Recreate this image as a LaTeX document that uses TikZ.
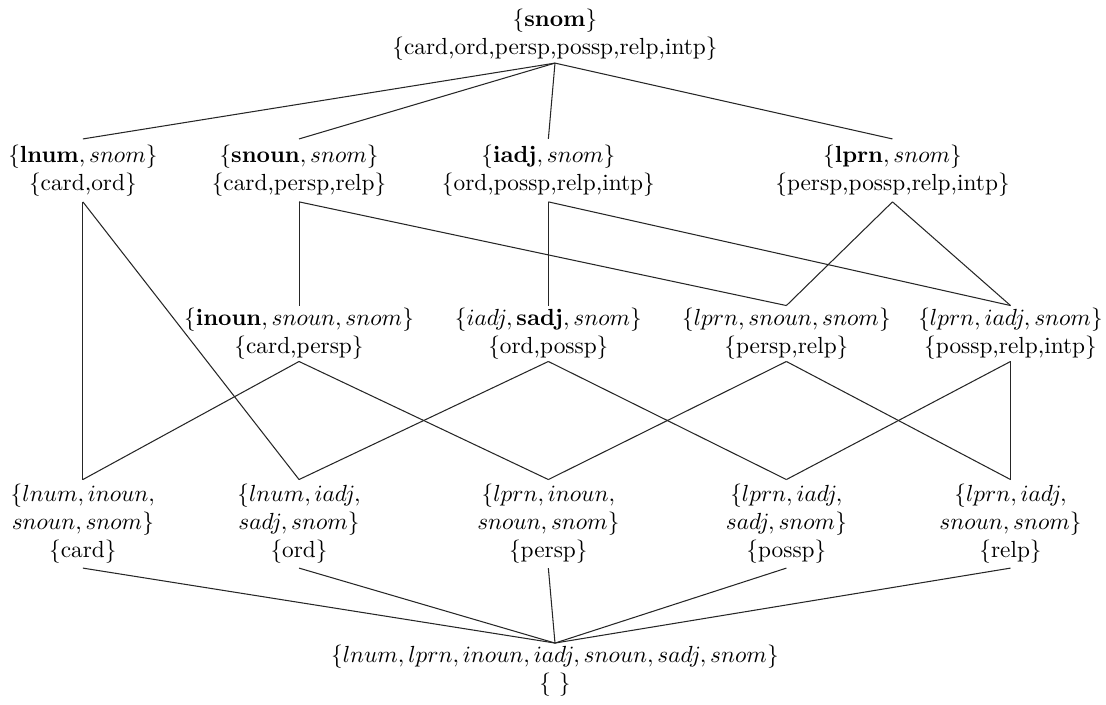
\documentclass[tikz,border=0pt]{standalone}
\usepackage{amsmath}

\tikzset{
  setnode/.style={align=center, inner xsep=1pt, inner ysep=#1, outer sep=0pt},
  setnode/.default=1pt,
  lattice/.style={draw=black!85, line width=0.45pt}
}

\begin{document}
\begin{tikzpicture}[lattice]

  \useasboundingbox (0,0) rectangle (16.68,10.62);

  % -- Top --
  \node[setnode] (snom) at (8.37,10.09) {$\{\mathbf{snom}\}$\\\{card,ord,persp,possp,relp,intp\}};

  % -- Level 1 --
  \node[setnode=2.5pt] (lnum)  at (1.25,8.05)  {$\{\mathbf{lnum}, snom\}$\\\{card,ord\}};
  \node[setnode=2.5pt] (snoun) at (4.51,8.05)  {$\{\mathbf{snoun}, snom\}$\\\{card,persp,relp\}};
  \node[setnode=2.5pt] (iadj)  at (8.27,8.05)  {$\{\mathbf{iadj}, snom\}$\\\{ord,possp,relp,intp\}};
  \node[setnode=2.5pt] (lprn)  at (13.46,8.05) {$\{\mathbf{lprn}, snom\}$\\\{persp,possp,relp,intp\}};

  % -- Level 2 --
  \node[setnode] (inoun) at (4.51,5.59)  {$\{\mathbf{inoun}, snoun, snom\}$\\\{card,persp\}};
  \node[setnode] (sadj)  at (8.27,5.59)  {$\{iadj, \mathbf{sadj}, snom\}$\\\{ord,possp\}};
  \node[setnode] (lpsn)  at (11.86,5.59) {$\{lprn, snoun, snom\}$\\\{persp,relp\}};
  \node[setnode] (lpia)  at (15.24,5.59) {$\{lprn, iadj, snom\}$\\\{possp,relp,intp\}};

  % -- Level 3 --
  \node[setnode=2pt] (card)  at (1.25,2.72)  {$\{lnum, inoun,$\\$snoun, snom\}$\\\{card\}};
  \node[setnode=2pt] (ord)   at (4.51,2.72)  {$\{lnum, iadj,$\\$sadj, snom\}$\\\{ord\}};
  \node[setnode=2pt] (persp) at (8.27,2.72)  {$\{lprn, inoun,$\\$snoun, snom\}$\\\{persp\}};
  \node[setnode=2pt] (possp) at (11.86,2.72) {$\{lprn, iadj,$\\$sadj, snom\}$\\\{possp\}};
  \node[setnode=2pt] (relp)  at (15.24,2.72) {$\{lprn, iadj,$\\$snoun, snom\}$\\\{relp\}};

  % -- Bottom --
  \node[setnode] (bot) at (8.37,0.50) {$\{lnum, lprn, inoun, iadj, snoun, sadj, snom\}$\\\{~\}};

  % -- Edges --
  \draw (snom.south) -- (lnum.north);
  \draw (snom.south) -- (snoun.north);
  \draw (snom.south) -- (iadj.north);
  \draw (snom.south) -- (lprn.north);

  \draw (lnum.south) -- (card.north);
  \draw (lnum.south) -- (ord.north);
  \draw (snoun.south) -- (inoun.north);
  \draw (snoun.south) -- (lpsn.north);
  \draw (iadj.south) -- (sadj.north);
  \draw (iadj.south) -- (lpia.north);
  \draw (lprn.south) -- (lpsn.north);
  \draw (lprn.south) -- (lpia.north);

  \draw (inoun.south) -- (card.north);
  \draw (inoun.south) -- (persp.north);
  \draw (sadj.south) -- (ord.north);
  \draw (sadj.south) -- (possp.north);
  \draw (lpsn.south) -- (persp.north);
  \draw (lpsn.south) -- (relp.north);
  \draw (lpia.south) -- (possp.north);
  \draw (lpia.south) -- (relp.north);

  \draw (card.south) -- (bot.north);
  \draw (ord.south) -- (bot.north);
  \draw (persp.south) -- (bot.north);
  \draw (possp.south) -- (bot.north);
  \draw (relp.south) -- (bot.north);

\end{tikzpicture}
\end{document}
